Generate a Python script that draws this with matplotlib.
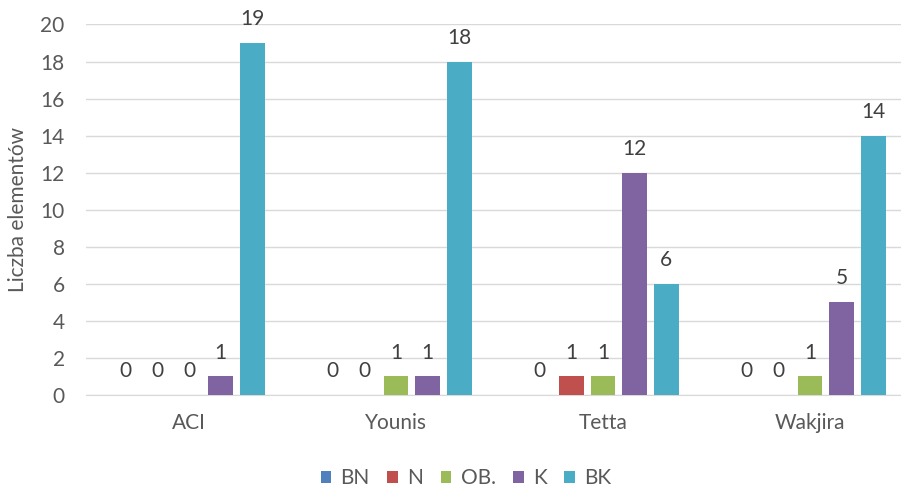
import matplotlib.pyplot as plt
import numpy as np

# dane do wykresu
metody = ['ACI', 'Younis', 'Tetta', 'Wakjira']
serie = ['BN', 'N', 'OB.', 'K', 'BK']
BN = [0, 0, 0, 0]
N = [0, 0, 1, 0]
OB = [0, 1, 1, 1]
K = [1, 1, 12, 5]
BK = [19, 18, 6, 14]
kolory = ['#4F81BD', '#C0504D', '#9BBB59', '#8064A2', '#4BACC6']

plt.rcParams['font.family'] = ['Lato', 'DejaVu Sans']
SZARY = '#595959'
FS = 15

fig = plt.figure(figsize=(9.01, 4.90), dpi=100)
# obszar wykresu wychodzi troche poza prawa krawedz
ax = fig.add_axes([85.5 / 901, 95 / 490, 828 / 901, 370.5 / 490])

x = np.arange(len(metody))
szer = 0.12
krok = 0.153
wartosci = [BN, N, OB, K, BK]
for i, (nazwa, w) in enumerate(zip(serie, wartosci)):
    pos = x + (i - 2) * krok
    bars = ax.bar(pos, w, width=szer, color=kolory[i], label=nazwa, zorder=3)
    for b, v in zip(bars, w):
        ax.annotate(str(v), (b.get_x() + b.get_width() / 2, v),
                    xytext=(0, 10), textcoords='offset points',
                    ha='center', va='bottom', fontsize=FS, color='#404040')

ax.set_xlim(-0.5, 3.5)
ax.set_ylim(0, 20)
ax.set_yticks(range(0, 21, 2))
ax.set_xticks(x)
ax.set_xticklabels(metody)
ax.yaxis.grid(True, color='#D9D9D9', linewidth=1, zorder=0)
for s in ['top', 'right', 'left']:
    ax.spines[s].set_visible(False)
ax.spines['bottom'].set_color('#D9D9D9')
ax.tick_params(axis='both', length=0, labelsize=FS, labelcolor=SZARY)
ax.tick_params(axis='y', pad=15)
ax.tick_params(axis='x', pad=13)
ax.set_ylabel('Liczba elementów', fontsize=FS, color=SZARY, labelpad=9)

fig.legend(loc='center', bbox_to_anchor=(466 / 901, 1 - 478 / 490), ncol=5,
           frameon=False, fontsize=FS, handlelength=0.5, handleheight=0.5,
           handletextpad=0.45, columnspacing=0.85, labelcolor=SZARY,
           borderpad=0.1)

fig.savefig('out.png', dpi=100)
